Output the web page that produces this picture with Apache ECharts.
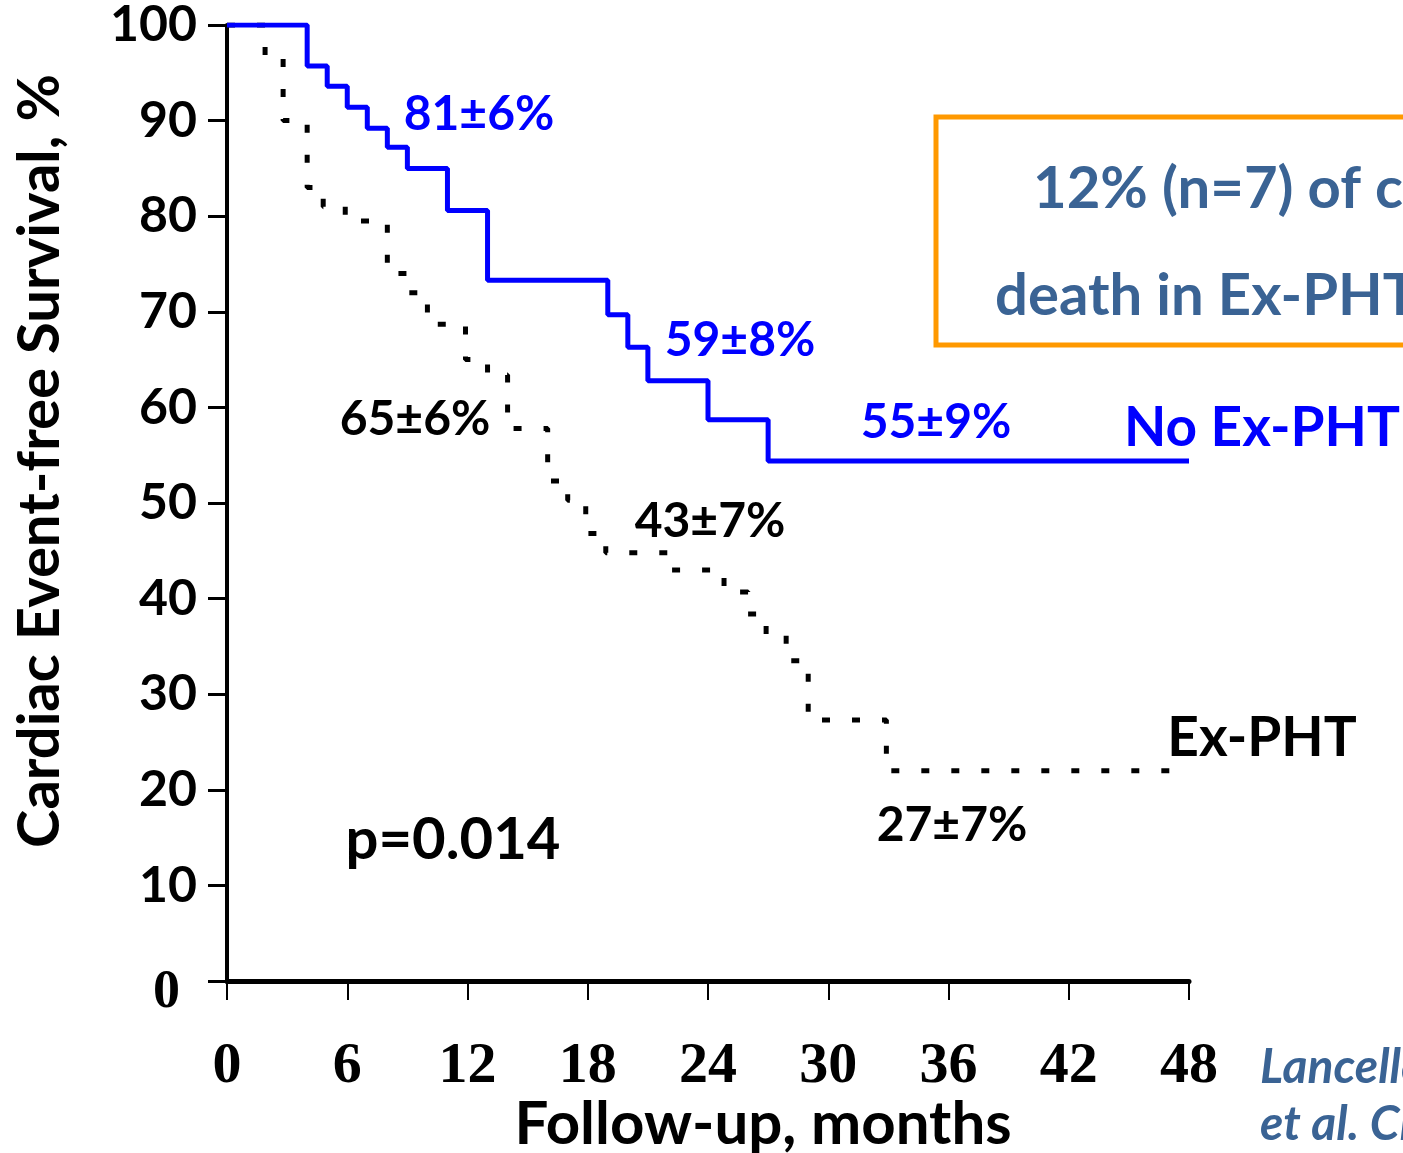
<!DOCTYPE html>
<html>
<head>
<meta charset="utf-8">
<script src="https://cdn.jsdelivr.net/npm/echarts@6/dist/echarts.min.js"></script>
<style>
  html, body { margin: 0; padding: 0; background: #fff; }
  #chart { width: 1403px; height: 1153px; }
</style>
</head>
<body>
<div id="chart"></div>
<script>
  // Kaplan-Meier steps (months, % event-free)
  var noMonths = [0, 4, 5, 6, 7, 8, 9, 11, 13, 19, 20, 21, 24, 27, 48];
  var noValues = [100, 95.7, 93.6, 91.4, 89.2, 87.2, 85, 80.6, 73.3, 69.7, 66.3, 62.8, 58.7, 54.4, 54.4];

  var exMonths = [0, 1.9, 2.8, 4.0, 4.8, 5.9, 8.0, 9.0, 10.0, 11.9, 13.0, 14.0, 16.0, 17.0, 17.9, 18.9, 22.1, 24.8, 26.0, 26.9, 27.9, 29.0, 32.9, 48];
  var exValues = [100, 96.5, 90, 83, 81, 79.5, 74, 72, 68.7, 65, 63.4, 57.8, 52.3, 50.3, 46.8, 44.8, 43, 40.7, 38.4, 36.3, 33.5, 27.3, 22, 22];

  var xTicks = [0, 6, 12, 18, 24, 30, 36, 42, 48];

  function pairs(xs, ys) {
    var out = [];
    for (var i = 0; i < xs.length; i++) out.push([xs[i], ys[i]]);
    return out;
  }

  var SANS = 'Lato, "Open Sans", sans-serif';
  var BLUE = '#0000ff';
  var STEEL = '#3a6394';

  function label(text, x, y, size, color, extra) {
    var st = {
      text: text, x: x, y: y,
      fill: color,
      fontFamily: SANS, fontWeight: 'bold', fontSize: size,
      textAlign: 'center', textVerticalAlign: 'middle'
    };
    if (extra) for (var k in extra) st[k] = extra[k];
    return { type: 'text', z: 10, style: st };
  }

  var chart = echarts.init(document.getElementById('chart'));
  chart.setOption({
    animation: false,
    backgroundColor: '#fff',
    grid: { left: 227, right: 214, top: 23, bottom: 172 },
    xAxis: {
      type: 'value',
      min: 0, max: 48, interval: 6,
      axisLine: { lineStyle: { color: '#000', width: 5 } },
      axisTick: { show: true, length: 19, lineStyle: { color: '#000', width: 2 } },
      splitLine: { show: false },
      axisLabel: {
        margin: 57,
        color: '#000',
        fontFamily: '"Liberation Serif", "DejaVu Serif", serif',
        fontWeight: 'bold',
        fontSize: 58,
        formatter: function (v) { return xTicks.indexOf(v) >= 0 ? String(v) : ''; }
      }
    },
    yAxis: {
      type: 'value',
      min: 0, max: 100, interval: 10,
      axisLine: { show: true, lineStyle: { color: '#000', width: 4 } },
      axisTick: { show: true, length: 19, lineStyle: { color: '#000', width: 3 } },
      splitLine: { show: false },
      axisLabel: {
        margin: 30,
        color: '#000',
        fontFamily: SANS,
        fontWeight: 'bold',
        fontSize: 50,
        formatter: function (v) { return v === 0 ? '{t|0}' : String(v); },
        rich: {
          t: {
            fontFamily: '"Liberation Serif", serif',
            fontWeight: 'bold',
            fontSize: 54,
            color: '#000',
            padding: [24, 17, 0, 0]
          }
        }
      }
    },
    series: [
      {
        name: 'No Ex-PHT',
        type: 'line',
        step: 'end',
        symbol: 'none',
        z: 3,
        lineStyle: { color: BLUE, width: 5 },
        data: pairs(noMonths, noValues)
      },
      {
        name: 'Ex-PHT',
        type: 'line',
        step: 'end',
        symbol: 'none',
        z: 2,
        lineStyle: { color: '#000', width: 5, type: [8, 22], cap: 'butt' },
        data: pairs(exMonths, exValues)
      }
    ],
    graphic: [
      // y axis title
      {
        type: 'text', z: 10,
        x: 40, y: 461, rotation: Math.PI / 2,
        style: {
          text: 'Cardiac Event-free Survival, %',
          fill: '#000', fontFamily: SANS, fontWeight: 'bold', fontSize: 58,
          textAlign: 'center', textVerticalAlign: 'middle'
        }
      },
      label('Follow-up, months', 763, 1125, 60, '#000'),
      label('81±6%', 479, 115, 48, BLUE),
      label('59±8%', 740, 341, 48, BLUE),
      label('55±9%', 936, 423, 48, BLUE),
      label('No Ex-PHT', 1262, 428, 55, BLUE),
      label('65±6%', 415, 420, 48, '#000'),
      label('43±7%', 710, 522, 48, '#000'),
      label('Ex-PHT', 1262, 738, 55, '#000'),
      label('27±7%', 952, 826, 48, '#000'),
      label('p=0.014', 453, 840, 58, '#000'),
      // boxed note, running off the right edge
      {
        type: 'rect', z: 5,
        shape: { x: 936, y: 117, width: 540, height: 228 },
        style: { fill: 'none', stroke: '#ff9900', lineWidth: 5 }
      },
      label('12% (n=7) of cardiac', 1033, 189, 58, STEEL, { textAlign: 'left' }),
      label('death in Ex-PHT group', 995, 296, 58, STEEL, { textAlign: 'left' }),
      label('Lancellotti', 1260, 1068, 48, STEEL, { textAlign: 'left', fontStyle: 'italic' }),
      label('et al. Circulation', 1260, 1125, 48, STEEL, { textAlign: 'left', fontStyle: 'italic' })
    ]
  });
</script>
</body>
</html>
